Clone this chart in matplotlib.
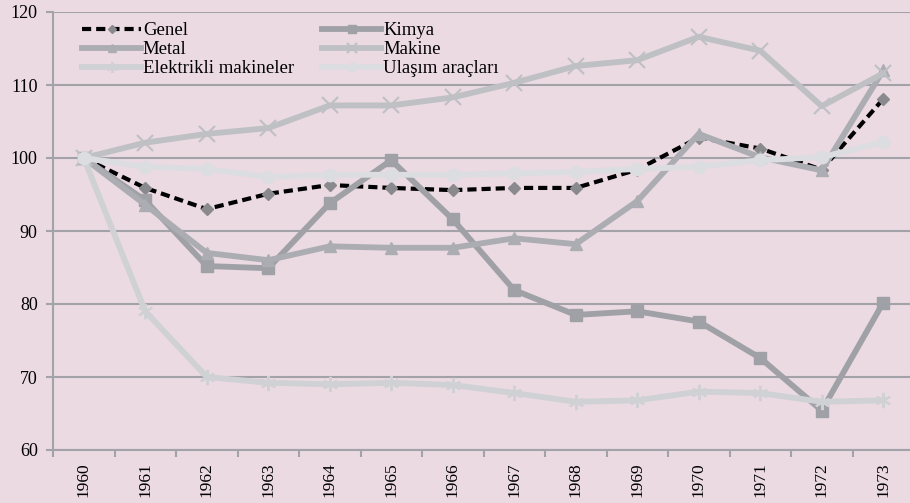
import matplotlib.pyplot as plt

plt.rcParams['font.family'] = ['Liberation Serif', 'DejaVu Serif']

years = [str(y) for y in range(1960, 1974)]

genel = [100, 95.9, 93.0, 95.1, 96.3, 95.9, 95.6, 95.9, 95.9, 98.4, 102.8, 101.3, 98.4, 108.1]
kimya = [100, 94.2, 85.2, 84.9, 93.8, 99.7, 91.6, 81.9, 78.5, 79.0, 77.6, 72.6, 65.4, 80.2]
metal = [100, 93.6, 87.0, 86.0, 87.9, 87.7, 87.7, 89.0, 88.2, 94.1, 103.3, 100.1, 98.3, 112.0]
makine = [100, 102.1, 103.3, 104.1, 107.2, 107.2, 108.3, 110.3, 112.6, 113.4, 116.6, 114.7, 107.1, 111.6]
elektrik = [100, 79.0, 70.0, 69.2, 69.0, 69.2, 68.9, 67.8, 66.6, 66.8, 68.0, 67.8, 66.6, 66.8]
ulasim = [100, 98.8, 98.5, 97.4, 97.7, 97.7, 97.7, 97.9, 98.1, 98.5, 98.8, 99.7, 100.1, 102.2]

bg = '#ebdae2'
grid_c = '#a3a2a8'

fig = plt.figure(figsize=(9.1, 5.03), dpi=100)
fig.patch.set_facecolor(bg)
ax = fig.add_axes([53 / 910, 1 - 450 / 503, 861 / 910, 438 / 503])
ax.set_facecolor(bg)

x = list(range(len(years)))
h_genel, = ax.plot(x, genel, color='black', lw=3, ls=(0, (2.2, 1.2)), marker='D',
                   ms=6, mfc='#8a8a8e', mec='#8a8a8e', label='Genel', zorder=3)
h_kimya, = ax.plot(x, kimya, color='#9fa1a6', lw=4.2, marker='s', ms=9,
                   label='Kimya', zorder=3)
h_metal, = ax.plot(x, metal, color='#abadb2', lw=4.2, marker='^', ms=9,
                   label='Metal', zorder=3)
h_makine, = ax.plot(x, makine, color='#bec0c4', lw=4.2, marker='x', ms=11, mew=1.5,
                    label='Makine', zorder=3)
h_elek, = ax.plot(x, elektrik, color='#cfd1d4', lw=4.2, marker=(6, 2, 0), ms=11, mew=1.5,
                  label='Elektrikli makineler', zorder=3)
h_ulas, = ax.plot(x, ulasim, color='#dcdde1', lw=4.2, marker='o', ms=9,
                  label='Ulaşım araçları', zorder=3)

ax.set_xlim(-0.5, 13.5)
ax.set_ylim(60, 120)
ax.set_yticks(range(60, 121, 10))
ax.set_xticks(x)
ax.set_xticklabels(years, rotation=90)
ax.set_xticks([i + 0.5 for i in range(-1, 14)], minor=True)
ax.tick_params(axis='x', which='major', length=0, pad=9, labelsize=12.5)
ax.tick_params(axis='x', which='minor', length=5, width=1.5, color=grid_c)
ax.tick_params(axis='y', length=5, width=1.5, color=grid_c, labelsize=13, pad=6)
ax.grid(axis='y', color=grid_c, lw=1.5, zorder=1)
ax.set_axisbelow(True)
for s in ['top', 'right']:
    ax.spines[s].set_visible(False)
for s in ['left', 'bottom']:
    ax.spines[s].set_color(grid_c)
    ax.spines[s].set_linewidth(1.5)

handles = [h_genel, h_metal, h_elek, h_kimya, h_makine, h_ulas]
ax.legend(handles=handles, ncol=2, frameon=False, fontsize=13.5,
          loc='upper left', bbox_to_anchor=(82 / 910, 1 - 22 / 503),
          bbox_transform=fig.transFigure, borderpad=0, borderaxespad=0,
          handlelength=3.15, handletextpad=0.1, labelspacing=0.1,
          columnspacing=1.5, markerscale=0.7)

fig.savefig('out.png', dpi=100, facecolor=bg)
